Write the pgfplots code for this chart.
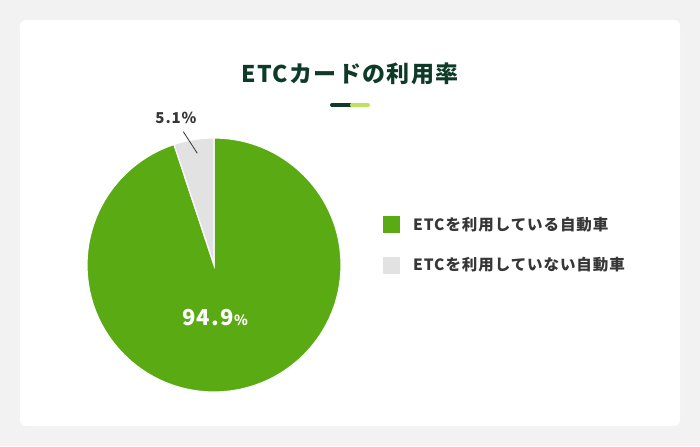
\documentclass[border=0pt]{standalone}
\usepackage{fontspec}
\usepackage{pgfplots}
\usepackage{pgfplotstable}
\pgfplotsset{compat=1.18}
\setmainfont{Noto Sans CJK JP}
\newfontfamily\spaced{Noto Sans CJK JP}[LetterSpace=6]

\definecolor{pgreen}{HTML}{5AAA14}
\definecolor{pgray}{HTML}{E2E2E2}
\definecolor{titlegreen}{HTML}{0E3B27}
\definecolor{lightbar}{HTML}{BDE45C}
\definecolor{bg}{HTML}{F1F2F1}
\definecolor{txt}{HTML}{363636}

% share of vehicles (%)
\pgfplotstableread{
label share
used 94.9
unused 5.1
}\sharetable

\pgfplotstablegetelem{0}{share}\of\sharetable
\let\usedshare\pgfplotsretval
\pgfplotstablegetelem{1}{share}\of\sharetable
\let\unusedshare\pgfplotsretval
\pgfmathsetmacro{\endused}{90-3.6*\usedshare}
\pgfmathsetmacro{\endunused}{90+3.6*\unusedshare}

\begin{document}
\begin{tikzpicture}
  \begin{axis}[
      width=700bp, height=446bp, scale only axis,
      xmin=0, xmax=700, ymin=0, ymax=446,
      hide axis, clip=false
    ]
    % background and card
    \fill[bg] (axis cs:0,0) rectangle (axis cs:700,446);
    \fill[white, rounded corners=6bp] (axis cs:20,20) rectangle (axis cs:680,426);

    % title
    \node[font=\spaced\fontsize{23bp}{23bp}\selectfont\bfseries, text=titlegreen]
      at (axis cs:350,372) {ETCカードの利用率};
    \draw[titlegreen, line width=4bp, line cap=round] (axis cs:332,341) -- (axis cs:350,341);
    \draw[lightbar, line width=4bp, line cap=round] (axis cs:352,341) -- (axis cs:368,341);

    % pie
    \fill[pgreen, draw=white, line width=1.2bp]
      (axis cs:214,181) -- (axis cs:214,308)
      arc[start angle=90, end angle=\endused, radius=127bp] -- cycle;
    \fill[pgray, draw=white, line width=1.2bp]
      (axis cs:214,181) -- (axis cs:214,308)
      arc[start angle=90, end angle=\endunused, radius=127bp] -- cycle;

    % slice labels
    \node[anchor=base, text=white, font=\spaced\bfseries, inner sep=0pt] at (axis cs:215,121)
      {{\fontsize{22bp}{22bp}\selectfont 94.9}{\fontsize{14bp}{14bp}\selectfont\%}};
    \node[anchor=base, text=txt, font=\spaced\fontsize{15bp}{15bp}\selectfont\bfseries, inner sep=0pt]
      at (axis cs:176,322) {5.1\%};
    \draw[txt, line width=0.8bp] (axis cs:183.3,314.3) -- (axis cs:197.3,292.7);

    % legend
    \fill[pgreen] (axis cs:383,213) rectangle (axis cs:400,230);
    \node[anchor=west, text=txt, font=\spaced\fontsize{15.5bp}{15.5bp}\selectfont\bfseries, inner sep=0pt]
      at (axis cs:413,221) {ETCを利用している自動車};
    \fill[pgray] (axis cs:383,172) rectangle (axis cs:400,189);
    \node[anchor=west, text=txt, font=\spaced\fontsize{15.5bp}{15.5bp}\selectfont\bfseries, inner sep=0pt]
      at (axis cs:413,181) {ETCを利用していない自動車};
  \end{axis}
\end{tikzpicture}
\end{document}
